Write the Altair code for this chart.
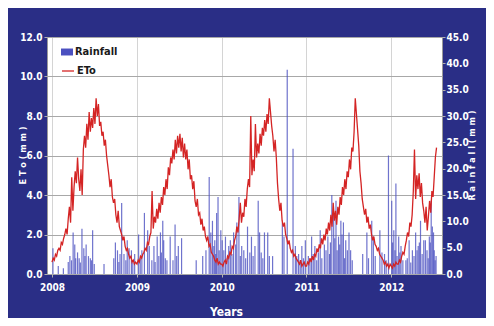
import altair as alt
import pandas as pd

# ---------------- data ----------------
# ETo (mm), sampled every 5 days from 1 January of each year
eto_2008 = [0.6, 0.8, 0.7, 1.0, 0.9, 1.2, 1.3, 1.2, 1.6, 1.5, 1.8, 2.0,
            2.3, 2.0, 2.8, 3.4, 2.6, 4.9, 3.2, 4.4, 5.2, 4.6, 5.9, 4.8,
            4.2, 5.3, 4.0, 6.3, 7.0, 6.4, 7.6, 6.8, 8.2, 7.2, 7.9, 7.4,
            8.4, 7.6, 8.9, 8.0, 8.6, 7.5, 7.7, 7.0, 7.2, 6.5, 6.8, 6.0,
            5.5, 5.0, 4.4, 4.8, 3.9, 3.6, 3.8, 3.0, 2.6, 3.2, 2.4, 2.2,
            2.0, 1.7, 1.9, 1.4, 1.2, 1.3, 1.0, 0.8, 0.9, 0.6, 0.7, 0.5, 0.6]
eto_2009 = [0.5, 0.7, 0.6, 0.9, 0.8, 1.0, 1.1, 1.3, 1.2, 1.6, 1.5, 1.9,
            2.1, 4.2, 2.3, 2.9, 2.6, 3.3, 2.8, 3.6, 3.1, 3.9, 3.5, 4.4,
            4.0, 4.8, 4.3, 5.4, 5.0, 5.9, 5.6, 6.3, 5.8, 6.8, 6.1, 7.0,
            6.4, 7.1, 6.2, 6.9, 5.9, 6.6, 5.8, 6.3, 5.3, 5.8, 4.8, 5.0,
            4.3, 4.7, 3.7, 3.4, 3.8, 3.0, 3.1, 2.5, 2.8, 2.2, 2.4, 1.9,
            1.7, 1.9, 1.4, 1.5, 1.1, 1.0, 0.9, 0.7, 0.6, 0.8, 0.5, 0.6, 0.5]
eto_2010 = [0.5, 0.4, 0.6, 0.7, 0.5, 0.9, 0.8, 1.1, 1.0, 1.4, 1.3, 1.7,
            1.9, 2.4, 2.1, 2.8, 3.6, 2.6, 3.1, 2.9, 3.8, 3.4, 4.3, 4.8,
            4.4, 8.0, 5.0, 5.8, 5.2, 7.6, 5.9, 6.6, 6.1, 7.1, 6.5, 7.4,
            7.0, 7.8, 7.2, 8.1, 7.6, 8.9, 8.2, 7.5, 7.0, 6.2, 6.8, 5.9,
            4.6, 3.8, 3.2, 3.6, 2.7, 2.4, 2.6, 2.0, 1.8, 1.5, 1.7, 1.3,
            1.1, 1.2, 0.9, 1.0, 0.8, 0.7, 0.6, 0.5, 0.7, 0.4, 0.5, 0.6, 0.4]
eto_2011 = [0.4, 0.6, 0.5, 0.8, 0.6, 0.9, 0.7, 1.0, 0.9, 1.3, 1.1, 1.5,
            1.3, 1.8, 1.5, 2.0, 1.7, 2.3, 2.0, 2.6, 2.2, 3.0, 2.4, 3.6,
            2.7, 3.2, 2.5, 3.4, 3.0, 3.9, 3.5, 4.4, 4.0, 4.8, 4.3, 5.2,
            4.9, 5.8, 5.3, 6.4, 6.2, 7.2, 8.9, 8.1, 7.3, 6.5, 5.2, 4.6,
            3.8, 3.4, 3.0, 3.3, 2.6, 2.9, 2.3, 2.5, 2.0, 1.7, 1.9, 1.5,
            1.4, 1.2, 1.3, 1.0, 0.9, 0.8, 0.7, 0.5, 0.6, 0.4, 0.5, 0.3, 0.5]
eto_2012 = [0.4, 0.3, 0.5, 0.4, 0.6, 0.5, 0.5, 0.7, 0.6, 0.9, 1.1, 1.0,
            1.4, 1.7, 2.1, 1.9, 2.6, 2.4, 3.0, 4.2, 6.3, 3.8, 5.0, 4.3,
            5.1, 3.9, 4.6, 3.6, 3.2, 2.6, 3.4, 2.2, 2.9, 3.7, 3.1, 4.2,
            3.9, 4.9, 5.9, 6.4]
eto_years = [2008, 2009, 2010, 2011, 2012]
eto_series = [eto_2008, eto_2009, eto_2010, eto_2011, eto_2012]

# Rainfall events (mm)
rain_2008_dates = ["2008-01-05", "2008-01-28", "2008-02-19", "2008-03-11", "2008-03-18",
                   "2008-04-01", "2008-04-08", "2008-04-12", "2008-05-09", "2008-05-17",
                   "2008-05-27", "2008-06-06", "2008-06-14", "2008-06-24", "2008-07-01",
                   "2008-08-12", "2008-09-23", "2008-09-30", "2008-10-09", "2008-10-27",
                   "2008-11-06", "2008-11-20", "2008-11-28", "2008-12-08", "2008-12-22",
                   "2008-03-25", "2008-04-20", "2008-04-27", "2008-05-02", "2008-05-22",
                   "2008-06-19", "2008-10-15", "2008-10-20", "2008-11-14", "2008-12-14"]
rain_2008_mm = [4.9, 1.5, 1.1, 2.3, 3.4, 7.9, 5.6, 3.0, 8.6, 4.9, 5.6, 3.4, 3.0,
                8.3, 1.9, 1.9, 3.0, 6.0, 4.5, 13.5, 3.8, 6.4, 4.9, 4.5, 3.8,
                2.6, 4.1, 3.0, 2.2, 3.4, 2.6, 2.3, 3.8, 2.6, 2.2]
rain_2009_dates = ["2009-02-02", "2009-02-16", "2009-02-23", "2009-03-06", "2009-03-29",
                   "2009-04-05", "2009-04-12", "2009-04-22", "2009-04-26", "2009-05-10",
                   "2009-06-14", "2009-06-28", "2009-07-12", "2009-09-13", "2009-10-11",
                   "2009-10-25", "2009-11-08", "2009-11-15", "2009-11-22", "2009-12-02",
                   "2009-12-10", "2009-12-16", "2009-12-28",
                   "2009-01-08", "2009-01-15", "2009-01-22", "2009-03-15", "2009-03-20",
                   "2009-04-16", "2009-05-03", "2009-05-24", "2009-06-05", "2009-06-21",
                   "2009-11-28", "2009-12-06", "2009-12-21"]
rain_2009_mm = [11.6, 8.3, 5.3, 2.6, 7.1, 3.4, 7.9, 10.1, 6.4, 2.6, 9.4, 5.3, 6.8,
                2.6, 3.4, 4.5, 18.4, 7.9, 10.1, 6.4, 11.6, 14.6, 8.3,
                7.5, 3.0, 4.5, 5.3, 2.3, 4.1, 3.0, 7.1, 2.6, 3.4, 5.3, 3.8, 4.5]
rain_2010_dates = ["2010-01-03", "2010-01-17", "2010-01-31", "2010-02-21", "2010-03-07",
                   "2010-03-16", "2010-03-28", "2010-04-22", "2010-05-09", "2010-05-16",
                   "2010-06-07", "2010-06-13", "2010-07-04", "2010-07-18", "2010-08-08",
                   "2010-09-19", "2010-09-26", "2010-10-10", "2010-11-04", "2010-11-14",
                   "2010-11-28", "2010-12-12", "2010-12-27",
                   "2010-01-10", "2010-01-24", "2010-02-07", "2010-02-14", "2010-03-02",
                   "2010-03-22", "2010-04-06", "2010-04-14", "2010-05-02", "2010-05-24",
                   "2010-06-20", "2010-06-27", "2010-07-25", "2010-11-20", "2010-12-05",
                   "2010-12-19"]
rain_2010_mm = [6.4, 7.1, 5.3, 7.9, 9.8, 14.6, 5.3, 9.0, 7.1, 3.4, 13.9, 7.9, 7.9,
                7.9, 3.4, 9.8, 7.1, 38.8, 23.8, 5.3, 3.8, 5.3, 6.4,
                4.5, 3.0, 6.4, 3.8, 5.6, 3.4, 4.5, 3.0, 4.1, 5.3, 4.1, 3.0, 3.4,
                3.4, 2.6, 3.0]
rain_2011_dates = ["2011-01-09", "2011-01-23", "2011-02-06", "2011-03-01", "2011-03-19",
                   "2011-04-03", "2011-04-20", "2011-04-28", "2011-05-08", "2011-05-19",
                   "2011-05-29", "2011-06-09", "2011-06-19", "2011-07-03", "2011-07-10",
                   "2011-08-31", "2011-09-18", "2011-10-09", "2011-10-16", "2011-11-13",
                   "2011-12-03", "2011-12-20",
                   "2011-01-16", "2011-01-30", "2011-02-14", "2011-02-21", "2011-03-08",
                   "2011-03-26", "2011-04-10", "2011-04-14", "2011-05-03", "2011-05-13",
                   "2011-05-24", "2011-06-03", "2011-06-14", "2011-06-26", "2011-07-17",
                   "2011-09-25", "2011-10-24", "2011-11-22", "2011-12-10"]
rain_2011_mm = [3.4, 7.1, 5.3, 8.3, 5.6, 7.1, 15.0, 11.6, 13.9, 7.1, 10.1, 9.8, 6.4,
                7.9, 4.5, 3.8, 7.9, 10.1, 7.1, 8.3, 3.8, 22.5,
                2.6, 3.8, 2.6, 4.1, 3.0, 4.5, 3.8, 6.0, 6.8, 4.5, 5.6, 7.5, 3.0,
                4.5, 2.6, 3.0, 3.4, 4.1, 2.6]
rain_2012_dates = ["2012-01-03", "2012-01-12", "2012-01-21", "2012-02-02", "2012-02-12",
                   "2012-03-04", "2012-03-18", "2012-04-01", "2012-04-15", "2012-04-26",
                   "2012-05-06", "2012-05-20", "2012-05-27", "2012-06-13", "2012-06-21",
                   "2012-07-01", "2012-07-08",
                   "2012-01-07", "2012-01-17", "2012-01-26", "2012-02-07", "2012-02-20",
                   "2012-03-10", "2012-03-25", "2012-04-08", "2012-04-21", "2012-05-01",
                   "2012-05-13", "2012-06-03", "2012-06-08", "2012-06-17", "2012-06-26",
                   "2012-07-04", "2012-07-12"]
rain_2012_mm = [13.9, 8.3, 17.2, 7.1, 5.3, 2.6, 6.4, 4.5, 7.9, 5.3, 10.1, 6.4, 6.4,
                7.1, 13.9, 7.9, 2.6,
                6.0, 4.5, 3.4, 4.1, 2.6, 3.0, 2.2, 3.4, 4.5, 6.0, 3.8, 4.5, 3.0,
                6.0, 9.0, 4.5, 3.4]

eto_ticks = [0, 2, 4, 6, 8, 10, 12]
rain_ticks = [0, 5, 10, 15, 20, 25, 30, 35, 40, 45]
year_ticks = [2008, 2009, 2010, 2011, 2012]

# ---------------- tables ----------------
eto_rows = []
for yr, vals in zip(eto_years, eto_series):
    dates = pd.date_range(f"{yr}-01-01", periods=len(vals), freq="5D")
    for d, v in zip(dates, vals):
        eto_rows.append({"date": d, "eto": v, "series": "ETo"})
eto_df = pd.DataFrame(eto_rows)

rain_dates = rain_2008_dates + rain_2009_dates + rain_2010_dates + rain_2011_dates + rain_2012_dates
rain_vals = rain_2008_mm + rain_2009_mm + rain_2010_mm + rain_2011_mm + rain_2012_mm
rain_df = pd.DataFrame({"date": pd.to_datetime(rain_dates), "mm": rain_vals, "series": "Rainfall"})

FONT = "Liberation Sans Narrow, Arial Narrow, DejaVu Sans Condensed, sans-serif"
xdomain = [alt.DateTime(year=2008, month=1, date=1), alt.DateTime(year=2012, month=7, date=16)]

x_enc = alt.X("date:T", scale=alt.Scale(domain=xdomain),
              axis=alt.Axis(values=[alt.DateTime(year=y, month=1, date=1) for y in year_ticks],
                            format="%Y", title="Years", labelColor="white",
                            labelFontWeight="bold", labelFontSize=10, labelFont=FONT,
                            titleColor="white", titleFont=FONT, titleFontSize=12,
                            titleFontWeight="bold", titleX=179, titleY=37,
                            titleBaseline="middle", titleAlign="center",
                            tickColor="#b0b0b0", tickSize=3, labelPadding=5,
                            grid=True, gridColor="#d4d4d4", domain=False))

rain = alt.Chart(rain_df).mark_bar(size=1.2, opacity=0.8).encode(
    x=x_enc,
    y=alt.Y("mm:Q", scale=alt.Scale(domain=[0, 45], nice=False),
            axis=alt.Axis(orient="right", values=rain_ticks, format=".1f",
                          title="R a i n f a l l ( m m )", titleAngle=270,
                          titleX=29, titleY=118, titleBaseline="middle", titleAlign="center",
                          grid=False, labelColor="white", labelFontWeight="bold",
                          labelFontSize=10, labelFont=FONT, titleColor="white",
                          titleFont=FONT, titleFontSize=9, titleFontWeight="bold",
                          tickColor="#b0b0b0", tickSize=3,
                          labelPadding=1, domain=False)),
    color=alt.Color("series:N", scale=alt.Scale(domain=["Rainfall"], range=["#4b50c0"]),
                    legend=alt.Legend(title=None, orient="none", legendX=14, legendY=9,
                                      symbolType="M-1,-0.58H1V0.58H-1Z", symbolSize=144,
                                      symbolStrokeWidth=0, symbolOpacity=1,
                                      labelColor="#1a1a1a", labelFont=FONT, labelFontSize=11,
                                      labelFontWeight="bold", labelOffset=2, padding=0)),
)

eto = alt.Chart(eto_df).mark_line(strokeWidth=1.3).encode(
    x=x_enc,
    y=alt.Y("eto:Q", scale=alt.Scale(domain=[0, 12], nice=False),
            axis=alt.Axis(orient="left", values=eto_ticks, format=".1f",
                          title="E T o ( m m )", titleAngle=270,
                          titleX=-25, titleY=118, titleBaseline="middle", titleAlign="center",
                          grid=True, gridColor="#a8a8a8", labelColor="white",
                          labelFontWeight="bold", labelFontSize=10, labelFont=FONT,
                          titleColor="white", titleFont=FONT, titleFontSize=9,
                          titleFontWeight="bold", tickColor="#b0b0b0", tickSize=3,
                          labelPadding=2, domain=False)),
    stroke=alt.Stroke("series:N", scale=alt.Scale(domain=["ETo"], range=["#d42424"]),
                      legend=alt.Legend(title=None, orient="none", legendX=14, legendY=27,
                                        symbolType="stroke", symbolSize=144,
                                        symbolStrokeWidth=1.3,
                                        labelColor="#1a1a1a", labelFont=FONT, labelFontSize=11,
                                        labelFontWeight="bold", labelOffset=2, padding=0)),
)

chart = alt.layer(rain, eto).resolve_scale(y="independent").properties(
    width=395, height=237,
    autosize=alt.AutoSizeParams(type="none"),
    padding={"left": 39, "top": 29, "right": 44, "bottom": 44},
    background="#2a2e86",
).configure_view(fill="white", stroke="#9a9a9a", strokeWidth=1)

chart.save("out.html", embed_options={"renderer": "svg", "actions": False})
